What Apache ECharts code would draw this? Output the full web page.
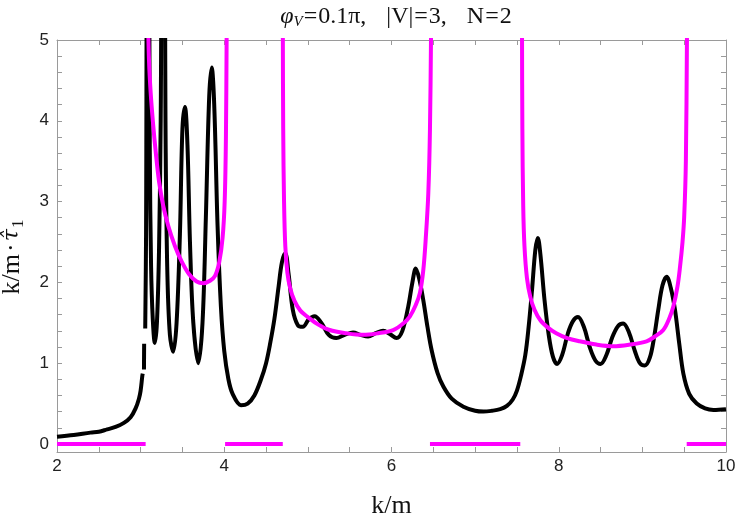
<!DOCTYPE html>
<html>
<head>
<meta charset="utf-8">
<script src="https://cdn.jsdelivr.net/npm/echarts@6/dist/echarts.min.js"></script>
<style>
  html, body { margin: 0; padding: 0; background: #fff; }
  #chart { width: 739px; height: 523px; }
</style>
</head>
<body>
<div id="chart"></div>
<script>
// black curve k/m · tau_1 (null = break in the plotted line)
var kBlack = [2.0, 2.2, 2.4, 2.5, 2.6, 2.7, 2.8, 2.88, 2.94, 2.98, 3.0, 3.02, 3.025, 3.028, 3.04, 3.042, 3.045,
  3.055, 3.065, 3.08, 3.095, 3.11, 3.125, 3.145, 3.17, 3.195, 3.22, 3.24, 3.26, 3.28, 3.30, 3.32, 3.35, 3.39,
  3.43, 3.47, 3.50, 3.53, 3.56, 3.59, 3.63, 3.69, 3.74, 3.78, 3.82, 3.85, 3.88, 3.92, 3.96, 4.0, 4.05, 4.1,
  4.2, 4.28, 4.36, 4.44, 4.5, 4.55, 4.6, 4.65, 4.69, 4.73, 4.77, 4.82, 4.88, 4.94, 5.01, 5.08, 5.16, 5.25, 5.34,
  5.44, 5.54, 5.63, 5.72, 5.81, 5.90, 5.98, 6.06, 6.13, 6.2, 6.25, 6.29, 6.33, 6.38, 6.43, 6.48, 6.55, 6.62,
  6.72, 6.86, 7.0, 7.1, 7.2, 7.3, 7.38, 7.45, 7.5, 7.55, 7.6, 7.64, 7.68, 7.72, 7.75, 7.78, 7.83, 7.88, 7.93, 7.98,
  8.04, 8.11, 8.17, 8.23, 8.3, 8.37, 8.44, 8.5, 8.57, 8.64, 8.71, 8.77, 8.84, 8.91, 8.97, 9.03, 9.09, 9.14,
  9.19, 9.24, 9.29, 9.34, 9.39, 9.44, 9.49, 9.56, 9.65, 9.75, 9.85, 10.0];
var tauBlack = [0.09, 0.11, 0.14, 0.15, 0.18, 0.21, 0.26, 0.33, 0.44, 0.56, 0.66, 0.84, 0.87, null, 0.92, 1.24, null,
  1.43, 2.6, 7, 7, 3.6, 2.2, 1.55, 1.25, 1.5, 2.4, 4.0, 7, 7, 3.6, 2.1, 1.35, 1.14,
  1.5, 2.6, 3.9, 4.17, 3.7, 2.5, 1.5, 1.0, 1.5, 2.8, 4.3, 4.66, 4.2, 2.7, 1.7, 1.15, 0.8, 0.62,
  0.48, 0.5, 0.6, 0.8, 1.0, 1.25, 1.55, 1.95, 2.25, 2.36, 2.1, 1.66, 1.47, 1.45, 1.54, 1.58, 1.5, 1.35, 1.31,
  1.35, 1.38, 1.35, 1.33, 1.37, 1.40, 1.36, 1.31, 1.4, 1.7, 2.0, 2.17, 2.05, 1.78, 1.45, 1.16, 0.88, 0.71,
  0.56, 0.46, 0.41, 0.40, 0.41, 0.43, 0.47, 0.55, 0.66, 0.85, 1.1, 1.45, 1.9, 2.4, 2.55, 2.35, 1.78, 1.35, 1.08, 0.99,
  1.1, 1.37, 1.52, 1.57, 1.45, 1.2, 1.03, 0.99, 1.1, 1.32, 1.46, 1.49, 1.38, 1.15, 1.0, 0.97, 1.07, 1.32,
  1.66, 1.96, 2.07, 1.93, 1.66, 1.25, 0.87, 0.62, 0.50, 0.44, 0.42, 0.43];

// magenta band curves
var kBand1 = [3.088, 3.10, 3.12, 3.15, 3.18, 3.22, 3.27, 3.33, 3.41, 3.49, 3.58, 3.67, 3.75, 3.83, 3.89, 3.94, 3.98, 4.005, 4.02, 4.03];
var tauBand1 = [5.3, 4.75, 4.35, 3.95, 3.62, 3.25, 2.95, 2.70, 2.45, 2.26, 2.10, 2.01, 1.99, 2.02, 2.08, 2.25, 2.55, 3.0, 3.8, 5.3];
var kBand2 = [4.70, 4.705, 4.715, 4.73, 4.755, 4.79, 4.84, 4.91, 5.0, 5.12, 5.26, 5.46, 5.66, 5.84, 6.02, 6.14, 6.22, 6.29, 6.34, 6.38, 6.41, 6.44, 6.46, 6.475];
var tauBand2 = [5.3, 3.9, 3.0, 2.45, 2.12, 1.92, 1.77, 1.65, 1.57, 1.48, 1.41, 1.37, 1.35, 1.37, 1.41, 1.49, 1.58, 1.72, 1.87, 2.15, 2.55, 3.1, 3.9, 5.3];
var kBand3 = [7.56, 7.565, 7.575, 7.59, 7.62, 7.66, 7.71, 7.78, 7.87, 7.97, 8.1, 8.25, 8.45, 8.65, 8.85, 9.05, 9.15, 9.25, 9.32, 9.37, 9.42, 9.45, 9.48, 9.50, 9.52, 9.535];
var tauBand3 = [5.3, 3.9, 2.95, 2.45, 2.05, 1.82, 1.66, 1.53, 1.44, 1.37, 1.31, 1.27, 1.23, 1.21, 1.23, 1.27, 1.33, 1.41, 1.55, 1.70, 1.95, 2.19, 2.5, 2.81, 3.5, 5.3];

// gap intervals drawn on y = 0
var gapFrom = [2.0, 4.01, 6.46, 9.53];
var gapTo = [3.06, 4.70, 7.54, 10.0];
var gapLabelK = [2.51, 4.34, 7.06];
var gapLabelTau = [1.1, 1.1, 1.1];

// ticks
var xTicks = [2, 2.5, 3, 3.5, 4, 4.5, 5, 5.5, 6, 6.5, 7, 7.5, 8, 8.5, 9, 9.5, 10];
var xLabels = [2, 4, 6, 8, 10];
var yTicks = [0, 0.2, 0.4, 0.6, 0.8, 1, 1.2, 1.4, 1.6, 1.8, 2, 2.2, 2.4, 2.6, 2.8, 3, 3.2, 3.4, 3.6, 3.8, 4, 4.2, 4.4, 4.6, 4.8, 5];
var yLabels = [0, 1, 2, 3, 4, 5];

function pairs(xs, ys) {
  return xs.map(function (x, i) { return [x, ys[i] === null ? '-' : ys[i]]; });
}
var gapData = [];
gapFrom.forEach(function (a, i) {
  if (i > 0) gapData.push([a, '-']);
  gapData.push([a, 0], [gapTo[i], 0]);
});

var frameColor = '#9a9a9a';
var serif = '"Liberation Serif", "DejaVu Serif", serif';

function xAxisDef(pos, show) {
  return {
    type: 'value', position: pos, min: 2, max: 10,
    axisLine: { show: true, onZero: false, lineStyle: { color: frameColor, width: 1 } },
    axisTick: { show: true, inside: true, length: 5, customValues: xTicks, lineStyle: { color: frameColor } },
    axisLabel: { show: show, customValues: xLabels, margin: 6, color: '#222', fontSize: 17, fontFamily: '"Liberation Sans", Arial, sans-serif' },
    splitLine: { show: false }
  };
}
function yAxisDef(pos, show) {
  return {
    type: 'value', position: pos, min: -0.1, max: 5,
    axisLine: { show: true, onZero: false, lineStyle: { color: frameColor, width: 1 } },
    axisTick: { show: true, inside: true, length: 5, customValues: yTicks, lineStyle: { color: frameColor } },
    axisLabel: { show: show, customValues: yLabels, margin: 8, color: '#222', fontSize: 17, fontFamily: '"Liberation Sans", Arial, sans-serif' },
    splitLine: { show: false }
  };
}

var myChart = echarts.init(document.getElementById('chart'));
var xb = xAxisDef('bottom', true);
xb.name = 'k/m';
xb.nameLocation = 'middle';
xb.nameGap = 41;
xb.nameTextStyle = { fontFamily: serif, fontSize: 26, color: '#111' };
var yl = yAxisDef('left', true);
yl.name = '{a|k/m}{d|·}{t|τ̂}{s|1}';
yl.nameLocation = 'middle';
yl.nameGap = 30;
yl.nameTextStyle = {
  padding: [0, 22, 0, 0],
  rich: {
    a: { fontFamily: serif, fontSize: 26, color: '#111', lineHeight: 30, verticalAlign: 'middle' },
    d: { fontFamily: serif, fontSize: 26, color: '#111', lineHeight: 30, verticalAlign: 'middle', padding: [0, 2, 0, 2] },
    t: { fontFamily: '"DejaVu Serif", serif', fontSize: 22, fontStyle: 'italic', color: '#111', lineHeight: 30, verticalAlign: 'middle' },
    s: { fontFamily: serif, fontSize: 17, color: '#111', verticalAlign: 'bottom', padding: [12, 0, 0, 1] }
  }
};

var titleRich = {
  i: { fontFamily: serif, fontSize: 24, fontStyle: 'italic', color: '#111', lineHeight: 26, verticalAlign: 'middle' },
  s: { fontFamily: serif, fontSize: 15, fontStyle: 'italic', color: '#111', verticalAlign: 'bottom', padding: [12, 0, 0, 0] },
  n: { fontFamily: serif, fontSize: 24, color: '#111', lineHeight: 26, verticalAlign: 'middle' },
  e: { fontFamily: serif, fontSize: 24, color: '#111', lineHeight: 26, verticalAlign: 'middle', padding: [0, 1, 0, 1] },
  g: { fontFamily: serif, fontSize: 24, color: '#111', lineHeight: 26, verticalAlign: 'middle', padding: [0, 4, 0, 4] }
};

myChart.setOption({
  animation: false,
  title: {
    text: '{i|φ}{s|V}{e|=}{n|0.1π,}{g|  }{n||V|}{e|=}{n|3,}{g|  }{n|N}{e|=}{n|2}',
    left: 391, top: -2, textAlign: 'center',
    textStyle: { fontWeight: 'normal', fontSize: 24, rich: titleRich }
  },
  grid: { left: 57, right: 13, top: 40, bottom: 71, outerBoundsMode: 'none', containLabel: false },
  xAxis: [xb, xAxisDef('top', false)],
  yAxis: [yl, yAxisDef('right', false)],
  series: [
    {
      name: 'tau', type: 'line', data: pairs(kBlack, tauBlack),
      showSymbol: false, smooth: 0.35, connectNulls: false,
      lineStyle: { color: '#000', width: 4 }, z: 2
    },
    {
      name: 'band1', type: 'line', data: pairs(kBand1, tauBand1),
      showSymbol: false, smooth: 0.35,
      lineStyle: { color: '#ff00ff', width: 4 }, z: 3
    },
    {
      name: 'band2', type: 'line', data: pairs(kBand2, tauBand2),
      showSymbol: false, smooth: 0.35,
      lineStyle: { color: '#ff00ff', width: 4 }, z: 3
    },
    {
      name: 'band3', type: 'line', data: pairs(kBand3, tauBand3),
      showSymbol: false, smooth: 0.35,
      lineStyle: { color: '#ff00ff', width: 4 }, z: 3
    },
    {
      name: 'gaps', type: 'line', data: gapData, showSymbol: false, connectNulls: false,
      lineStyle: { color: '#ff00ff', width: 4, cap: 'butt' }, z: 4
    },
    {
      name: 'gapText', type: 'scatter', data: pairs(gapLabelK, gapLabelTau),
      symbolSize: 1, itemStyle: { opacity: 0 }, silent: true,
      label: { show: true, position: 'inside', formatter: 'gap', color: '#ff1a1a', fontFamily: serif, fontSize: 21 }, z: 5
    }
  ]
});
</script>
</body>
</html>
